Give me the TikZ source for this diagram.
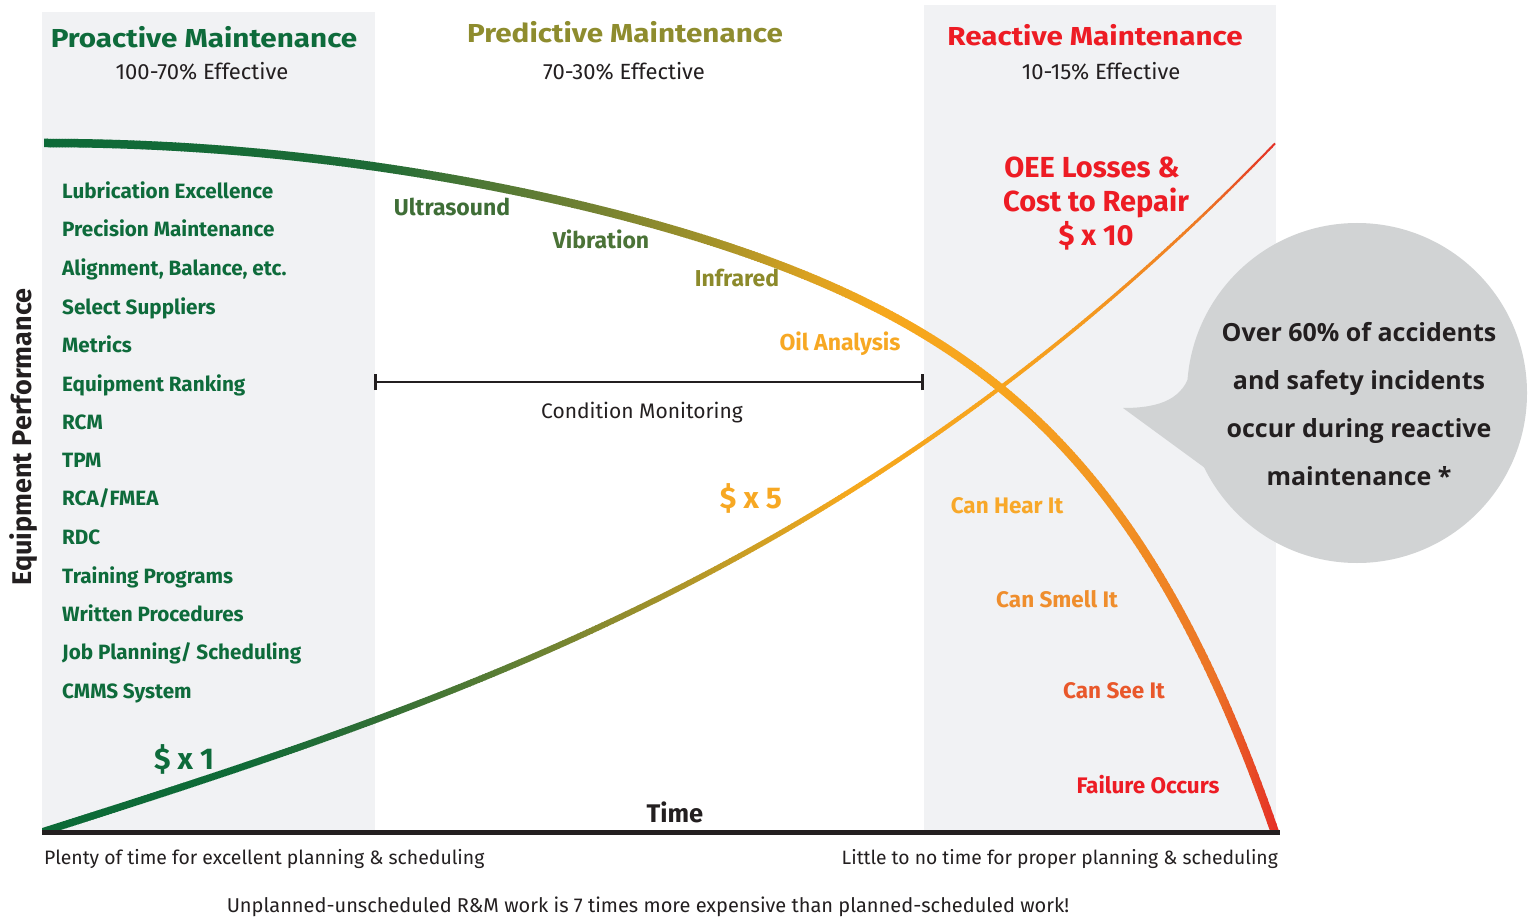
\documentclass[tikz,border=0pt]{standalone}
\usepackage{fontspec}
\setmainfont{Fira Sans}
\newfontfamily\futB[FakeStretch=1.14]{Fira Sans}
\newfontfamily\bubblefont{Open Sans}
\definecolor{cgreen}{HTML}{0E6B3B}
\definecolor{colive}{HTML}{8E8C2E}
\definecolor{cred}{HTML}{ED1C24}
\definecolor{cdark}{HTML}{231F20}
\definecolor{cpanel}{HTML}{F1F2F4}
\definecolor{cbubble}{HTML}{D1D3D4}
\definecolor{lgUltra}{HTML}{3F6E37}
\definecolor{lgVib}{HTML}{4B7337}
\definecolor{lgInfra}{HTML}{8C8A2B}
\definecolor{lgOil}{HTML}{F7A823}
\definecolor{lgHear}{HTML}{F8A829}
\definecolor{lgSmell}{HTML}{EF8E2D}
\definecolor{lgSee}{HTML}{E9582B}
% gradient stops
\definecolor{dA}{HTML}{0C6A37}
\definecolor{dB}{HTML}{1E6B36}
\definecolor{dC}{HTML}{4D7735}
\definecolor{dD}{HTML}{6E8033}
\definecolor{dE}{HTML}{A39229}
\definecolor{dF}{HTML}{DCA221}
\definecolor{dG}{HTML}{F6A81D}
\definecolor{dH}{HTML}{F7A41E}
\definecolor{dI}{HTML}{F29422}
\definecolor{dJ}{HTML}{EC7426}
\definecolor{dK}{HTML}{E42A26}
\definecolor{rA}{HTML}{0C6A37}
\definecolor{rB}{HTML}{0F6A37}
\definecolor{rC}{HTML}{2F6E35}
\definecolor{rD}{HTML}{5A7D34}
\definecolor{rE}{HTML}{8C8B2E}
\definecolor{rF}{HTML}{CB9E24}
\definecolor{rG}{HTML}{F5A81D}
\definecolor{rH}{HTML}{F7A41E}
\definecolor{rI}{HTML}{F49A20}
\definecolor{rJ}{HTML}{EE7A25}
\definecolor{rK}{HTML}{E33026}
\begin{document}
\begin{tikzpicture}[x=1pt,y=-1pt,
  bold/.style={inner sep=0pt,font=\bfseries\fontsize{#1}{#1}\selectfont},
  wide/.style={inner sep=0pt,font=\futB\bfseries\fontsize{#1}{#1}\selectfont},
  reg/.style={inner sep=0pt,font=\fontsize{#1}{#1}\selectfont,text=cdark},
  listitem/.style={bold=20.7,anchor=base west,text=cgreen},
  smlbl/.style={bold=23,anchor=base},
  rlbl/.style={bold=22.5,anchor=base},
  ]
\useasboundingbox (0,0) rectangle (1528,917);
\fill[white] (0,0) rectangle (1528,917);
% panels
\fill[cpanel] (42,12) rectangle (375,832);
\fill[cpanel] (924,5) rectangle (1276,832);
% speech bubble
\fill[cbubble] (1357,393) circle[radius=170];
\fill[cbubble] (1191,370) .. controls (1184,398) and (1162,408) .. (1123,408) -- (1205,468) -- (1260,430) -- cycle;
% decline curve (performance): y = 143 + 215 s^2 + 69 s^8, s=(x-44)/1000
\foreach \xa/\xb/\ca/\cb in {44/375/dA/dB,375/480/dB/dC,480/580/dC/dD,580/713/dD/dE,713/813/dE/dF,813/880/dF/dG,880/1002/dG/dH,1002/1113/dH/dI,1113/1213/dI/dJ,1213/1282/dJ/dK}{
  \pgfmathtruncatemacro\nn{max(1,ceil((\xb-\xa)/3))}
  \pgfmathsetmacro\dx{(\xb-\xa)/\nn}
  \foreach \k in {1,...,\nn}{
    \pgfmathsetmacro\xu{\xa+(\k-1)*\dx}
    \pgfmathsetmacro\xv{\xa+\k*\dx+0.7}
    \pgfmathsetmacro\da{max(44,\xu-6)}
    \pgfmathsetmacro\db{\xv+6}
    \pgfmathsetmacro\tt{100*(\k-0.5)/\nn}
    \begin{scope}
      \clip (\xu,0) rectangle (\xv,832);
      \draw[line width=8.5pt,color=\cb!\tt!\ca] plot[domain=\da:\db,samples=5,variable=\xx] ({\xx},{143+215*((\xx-44)/1000)^2+69*((\xx-44)/1000)^8});
    \end{scope}
  }
}
% rising curve (cost): y = 832 - 319 s - 157.5 s^3, s=(x-42)/1000
\foreach \xa/\xb/\ca/\cb in {42/240/rA/rB,240/375/rB/rC,375/500/rC/rD,500/613/rD/rE,613/747/rE/rF,747/847/rF/rG,847/1002/rG/rH,1002/1087/rH/rI,1087/1200/rI/rJ,1200/1275/rJ/rK}{
  \pgfmathtruncatemacro\nn{max(1,ceil((\xb-\xa)/3))}
  \pgfmathsetmacro\dx{(\xb-\xa)/\nn}
  \foreach \k in {1,...,\nn}{
    \pgfmathsetmacro\xu{\xa+(\k-1)*\dx}
    \pgfmathsetmacro\xv{\xa+\k*\dx+0.7}
    \pgfmathsetmacro\da{max(42,\xu-6)}
    \pgfmathsetmacro\db{min(1275,\xv+6)}
    \pgfmathsetmacro\tt{100*(\k-0.5)/\nn}
    \pgfmathsetmacro\ss{(\xu-42)/1233}
    \pgfmathsetmacro\ww{7.5-3*\ss-2.5*\ss*\ss*\ss}
    \begin{scope}
      \clip (\xu,0) rectangle (\xv,832);
      \draw[line width=\ww pt,color=\cb!\tt!\ca] plot[domain=\da:\db,samples=5,variable=\xx] ({\xx},{832-319*((\xx-42)/1000)-157.5*((\xx-42)/1000)^3});
    \end{scope}
  }
}
% axis
\coordinate (axL) at (42,832);
\coordinate (axR) at (1280,832);
\draw[cdark,line width=5pt] (axL) -- (axR);
% condition monitoring bar
\coordinate (cmL) at (375,382);
\coordinate (cmR) at (922,382);
\draw[cdark,line width=2.5pt] (cmL) -- (cmR);
\draw[cdark,line width=3pt] ([yshift=-8pt]cmL) -- ([yshift=8pt]cmL);
\draw[cdark,line width=3pt] ([yshift=-8pt]cmR) -- ([yshift=8pt]cmR);
% headers
\node[wide=26,anchor=base,text=cgreen] (hpro) at (204,48) {Proactive Maintenance};
\node[reg=22,anchor=base] (epro) at (202,80) {100-70\% Effective};
\node[wide=26,anchor=base,text=colive] (hpre) at (625,43) {Predictive Maintenance};
\node[reg=22,anchor=base] (epre) at (624,80) {70-30\% Effective};
\node[wide=26,anchor=base,text=cred] (hrea) at (1095,46) {Reactive Maintenance};
\node[reg=22,anchor=base] (erea) at (1101,80) {10-15\% Effective};
% proactive list
\foreach \nm/\yy/\tx in {l1/199/Lubrication Excellence,l2/237/Precision Maintenance,l3/276/{Alignment, Balance, etc.},l4/314/Select Suppliers,l5/352/Metrics,l6/391/Equipment Ranking,l7/429/RCM,l8/467/TPM,l9/505/{RCA/FMEA},l10/544/RDC,l11/583/Training Programs,l12/621/Written Procedures,l13/659/{Job Planning/ Scheduling},l14/698/CMMS System}{
  \node[listitem] (\nm) at (62,\yy) {\tx};
}
\node[bold=30,anchor=base,text=cgreen] (c1) at (184,769) {\$ x 1};
% predictive labels
\node[smlbl,text=lgUltra] (ultra) at (452,216) {Ultrasound};
\node[smlbl,text=lgVib] (vib) at (601,249) {Vibration};
\node[smlbl,text=lgInfra] (infra) at (737,287) {Infrared};
\node[smlbl,text=lgOil] (oil) at (840,350) {Oil Analysis};
\node[reg=21,anchor=base] (cmon) at (642,418) {Condition Monitoring};
\node[bold=30,anchor=base,text=lgOil] (c5) at (751,508) {\$ x 5};
% reactive labels
\node[bold=29,anchor=base,text=cred] (oee1) at (1092,178) {OEE Losses \&};
\node[bold=29,anchor=base,text=cred] (oee2) at (1096,212) {Cost to Repair};
\node[bold=29,anchor=base,text=cred] (oee3) at (1096,246) {\$ x 10};
\node[rlbl,text=lgHear] (hear) at (1007,513) {Can Hear It};
\node[rlbl,text=lgSmell] (smell) at (1057,607) {Can Smell It};
\node[rlbl,text=lgSee] (see) at (1114,698) {Can See It};
\node[rlbl,text=cred] (fail) at (1148,793) {Failure Occurs};
% bubble text
\foreach \nm/\yy/\tx in {b1/341/Over 60\% of accidents,b2/389/and safety incidents,b3/437/occur during reactive,b4/485/maintenance *}{
  \node[inner sep=0pt,anchor=base,text=cdark,font=\bubblefont\bfseries\fontsize{25}{25}\selectfont] (\nm) at (1359,\yy) {\tx};
}
% axes labels
\node[bold=25.5,anchor=base,text=cdark] (time) at (675,822) {Time};
\node[bold=27,anchor=base,text=cdark,rotate=90] (yl) at (31,437) {Equipment Performance};
\node[reg=19.4,anchor=base west] (plenty) at (44,864) {Plenty of time for excellent planning \& scheduling};
\node[reg=19.3,anchor=base east] (little) at (1278,864) {Little to no time for proper planning \& scheduling};
\node[reg=20,anchor=base] (unpl) at (648,912) {Unplanned-unscheduled R\&M work is 7 times more expensive than planned-scheduled work!};
\end{tikzpicture}
\end{document}
